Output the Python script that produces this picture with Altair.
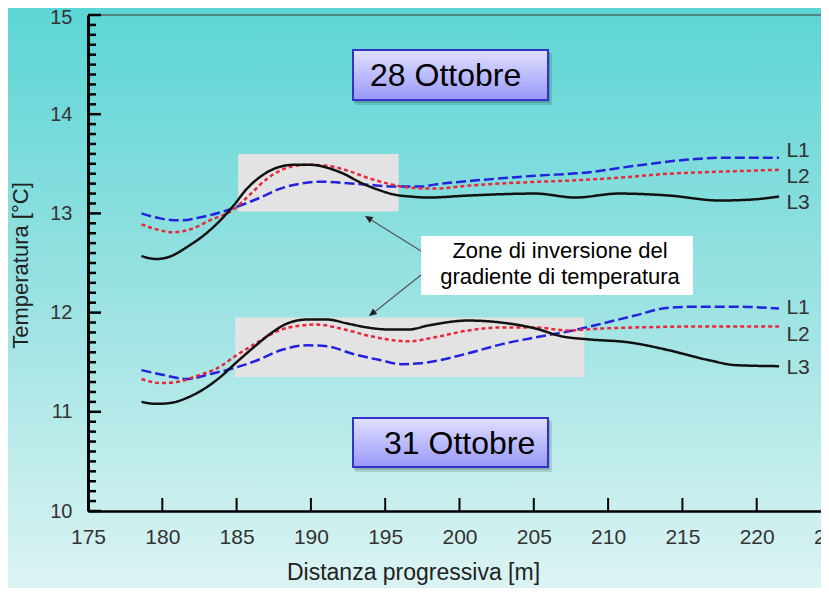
import altair as alt
import pandas as pd

# ---------------- data ----------------
# 28 Ottobre
x28_L1 = [178.6, 179.85, 181.2, 182.55, 183.9, 185.25, 186.6, 187.95, 189.3, 190.65, 192.0, 193.8,
          195.6, 197.4, 198.3, 201.7, 205.1, 208.4, 211.8, 215.2, 217.5, 221.5]
y28_L1 = [13.00, 12.95, 12.93, 12.96, 13.01, 13.08, 13.16, 13.25, 13.30, 13.32, 13.31, 13.29,
          13.27, 13.27, 13.29, 13.34, 13.38, 13.41, 13.48, 13.54, 13.56, 13.56]

x28_L2 = [178.6, 179.6, 180.7, 181.9, 183.2, 184.8, 185.9, 187.05, 188.4, 189.75, 191.1, 192.5,
          193.8, 195.2, 196.6, 198.3, 200.6, 203.9, 207.3, 210.7, 214.1, 217.5, 221.5]
y28_L2 = [12.89, 12.84, 12.81, 12.84, 12.93, 13.04, 13.19, 13.35, 13.46, 13.49, 13.48, 13.43,
          13.36, 13.30, 13.26, 13.25, 13.28, 13.31, 13.33, 13.36, 13.40, 13.42, 13.44]

x28_L3 = [178.6, 179.6, 180.6, 181.65, 182.8, 183.9, 184.8, 185.7, 186.6, 187.7, 188.85, 190.0,
          191.1, 192.2, 193.35, 194.5, 195.6, 196.7, 197.9, 200.6, 205.1, 207.8, 210.7, 214.1,
          217.5, 219.7, 221.5]
y28_L3 = [12.57, 12.54, 12.57, 12.66, 12.78, 12.93, 13.08, 13.25, 13.37, 13.46, 13.49, 13.49,
          13.46, 13.40, 13.31, 13.24, 13.19, 13.17, 13.16, 13.18, 13.20, 13.16, 13.20, 13.18,
          13.13, 13.14, 13.17]

# 31 Ottobre
x31_L1 = [178.6, 180.1, 181.65, 183.2, 184.8, 186.4, 187.95, 189.75, 191.1, 192.9, 194.7, 196.1,
          197.4, 198.3, 200.6, 202.8, 205.1, 207.3, 209.6, 211.8, 214.1, 216.3, 218.6, 221.5]
y31_L1 = [11.42, 11.37, 11.33, 11.38, 11.44, 11.52, 11.62, 11.67, 11.66, 11.58, 11.52, 11.48,
          11.49, 11.51, 11.59, 11.68, 11.75, 11.81, 11.89, 11.97, 12.05, 12.06, 12.06, 12.04]

x31_L2 = [178.6, 179.85, 180.95, 182.3, 183.7, 185.0, 186.4, 187.7, 189.3, 190.4, 192.0, 193.8,
          195.6, 196.6, 198.3, 200.6, 202.8, 205.1, 207.3, 209.6, 211.8, 216.3, 221.5]
y31_L2 = [11.33, 11.29, 11.30, 11.36, 11.44, 11.57, 11.70, 11.81, 11.87, 11.88, 11.84, 11.77,
          11.72, 11.71, 11.75, 11.82, 11.85, 11.85, 11.82, 11.84, 11.85, 11.86, 11.86]

x31_L3 = [178.6, 179.6, 180.6, 181.65, 182.8, 183.9, 185.0, 186.15, 187.3, 188.4, 189.75, 191.1,
          192.45, 193.8, 195.2, 196.6, 197.9, 200.6, 202.8, 205.1, 206.9, 208.7, 211.4, 214.1,
          216.8, 218.6, 221.5]
y31_L3 = [11.10, 11.08, 11.09, 11.14, 11.23, 11.35, 11.50, 11.65, 11.79, 11.89, 11.93, 11.93,
          11.89, 11.85, 11.83, 11.83, 11.87, 11.92, 11.90, 11.84, 11.76, 11.73, 11.70, 11.62,
          11.52, 11.47, 11.46]

# series end labels
lab_text = ["L1", "L2", "L3", "L1", "L2", "L3"]
lab_x = [222.0, 222.0, 222.0, 222.0, 222.0, 222.0]
lab_y = [13.63, 13.37, 13.10, 12.05, 11.77, 11.44]

# shaded "inversion" zones
zone_x = [185.1, 184.9]
zone_x2 = [195.9, 208.4]
zone_y = [13.02, 11.35]
zone_y2 = [13.60, 11.95]

# axis ticks / labels
x_ticks = [175, 180, 185, 190, 195, 200, 205, 210, 215, 220, 225]
y_ticks = [10, 11, 12, 13, 14, 15]
y_minor = [round(10 + i * 0.1, 1) for i in range(51) if i % 10 != 0]

# ---------------- build tables ----------------
series = [
    ("28", "L1", x28_L1, y28_L1), ("28", "L2", x28_L2, y28_L2), ("28", "L3", x28_L3, y28_L3),
    ("31", "L1", x31_L1, y31_L1), ("31", "L2", x31_L2, y31_L2), ("31", "L3", x31_L3, y31_L3),
]
rows = []
for d, name, xs, ys in series:
    for xv, yv in zip(xs, ys):
        rows.append({"serie": d + name, "line": name, "x": xv, "y": yv})
lines_df = pd.DataFrame(rows)
labels_df = pd.DataFrame({"x": lab_x, "y": lab_y, "t": lab_text})
zones_df = pd.DataFrame({"x": zone_x, "x2": zone_x2, "y": zone_y, "y2": zone_y2})
xt_df = pd.DataFrame({"x": [v for v in x_ticks if 175 < v < 225]})
yt_df = pd.DataFrame({"y": y_ticks})
ym_df = pd.DataFrame({"y": y_minor})
one = pd.DataFrame({"a": [0]})

W, H = 733, 496
FONT = "Liberation Sans"

xscale = alt.Scale(domain=[175, 225], range=[0, 743], nice=False, zero=False)
yscale = alt.Scale(domain=[10, 15], nice=False, zero=False)

def vbox(x0, y0, x1, y1, **kw):
    return alt.Chart(one).mark_rect(**kw).encode(
        x=alt.value(x0), x2=alt.value(x1), y=alt.value(y0), y2=alt.value(y1))

def vtext(txt, x, y, **kw):
    return alt.Chart(one).mark_text(text=txt, font=FONT, **kw).encode(
        x=alt.value(x), y=alt.value(y))

bg_grad = alt.LinearGradient(
    gradient="linear", x1=0, y1=0, x2=0, y2=1,
    stops=[alt.GradientStop(offset=0, color="#5cd5d5"),
           alt.GradientStop(offset=0.5, color="#9be2e2"),
           alt.GradientStop(offset=1, color="#dcf4f3")])
box_grad = alt.LinearGradient(
    gradient="linear", x1=0, y1=0, x2=0, y2=1,
    stops=[alt.GradientStop(offset=0, color="#e0e0ff"),
           alt.GradientStop(offset=1, color="#9898fa")])

background = vbox(-80, -8, W, H + 80, color=bg_grad)

zones = alt.Chart(zones_df).mark_rect(color="#e3e3e3").encode(
    x=alt.X("x:Q", scale=xscale), x2="x2:Q",
    y=alt.Y("y:Q", scale=yscale), y2="y2:Q")

top_line = alt.Chart(one).mark_rule(color="#4f8384", strokeWidth=2).encode(
    y=alt.datum(15), x=alt.value(0), x2=alt.value(W))

lines = alt.Chart(lines_df).mark_line(interpolate="monotone").encode(
    x=alt.X("x:Q", scale=xscale,
            axis=alt.Axis(values=x_ticks, format="d", ticks=False, grid=False, domainColor="black",
                          domainWidth=2.5, labelFont=FONT, labelFontSize=21, labelColor="#333333",
                          labelPadding=15, labelFlush=False, labelOverlap=False, zindex=1,
                          title="Distanza progressiva [m]", titleFont=FONT, titleFontSize=23,
                          titleFontWeight="normal", titleColor="#222222", titleX=325, titleY=61,
                          titleBaseline="middle", titleAlign="center")),
    y=alt.Y("y:Q", scale=yscale,
            axis=alt.Axis(values=y_ticks, format="d", ticks=False, grid=False, domainColor="black",
                          domainWidth=3, labelFont=FONT, labelFontSize=20, labelColor="#333333",
                          labelPadding=16, labelOverlap=False, labelFlush=False, zindex=1,
                          labelOffset={"condition": {"test": "datum.value == 15", "value": 2},
                                       "value": 0},
                          title="Temperatura [°C]", titleFont=FONT, titleFontSize=22,
                          titleFontWeight="normal", titleColor="#222222", titleX=-68, titleY=250,
                          titleAngle=270, titleBaseline="middle", titleAlign="center")),
    color=alt.Color("line:N", scale=alt.Scale(domain=["L1", "L2", "L3"],
                                              range=["#2323de", "#e8283a", "#111111"]), legend=None),
    strokeDash=alt.StrokeDash("line:N", scale=alt.Scale(domain=["L1", "L2", "L3"],
                                                        range=[[10, 4], [4, 3], [1, 0]]), legend=None),
    strokeWidth=alt.StrokeWidth("line:N", scale=alt.Scale(domain=["L1", "L2", "L3"],
                                                          range=[2.5, 2.5, 2.2]), legend=None),
    detail="serie:N",
)

labels = alt.Chart(labels_df).mark_text(align="left", baseline="middle", font=FONT,
                                        fontSize=21, color="#333333").encode(
    x="x:Q", y="y:Q", text="t:N")

yt_major = alt.Chart(yt_df).mark_rule(color="black", strokeWidth=2.5).encode(
    y="y:Q", x=alt.value(0), x2=alt.value(13))
yt_minor = alt.Chart(ym_df).mark_rule(color="black", strokeWidth=2.5).encode(
    y="y:Q", x=alt.value(0), x2=alt.value(8))
xt_major = alt.Chart(xt_df).mark_rule(color="black", strokeWidth=2).encode(
    x="x:Q", y=alt.value(H), y2=alt.value(H - 13))

# date boxes (with shadows)
def date_box(x0, y0, x1, y1, txt, tx):
    return [
        vbox(x0 + 2, y0 + 3, x1 + 4, y1 + 5, color="#000000", opacity=0.12),
        vbox(x0 + 1, y0 + 2, x1 + 2, y1 + 3, color="#000000", opacity=0.15),
        vbox(x0, y0, x1, y1, color=box_grad, stroke="#3333cc", strokeWidth=2),
        vtext(txt, tx, (y0 + y1) / 2 + 1, align="left", baseline="middle", fontSize=32,
              color="#000000"),
    ]

box28 = date_box(265, 35, 460, 85, "28 Ottobre", 282)
box31 = date_box(265, 403, 460, 452, "31 Ottobre", 296)

# annotation
ann_box = vbox(333, 221, 605, 280, color="#ffffff")
ann_t1 = vtext("Zone di inversione del", 472, 243, align="center", baseline="alphabetic",
               fontSize=22, color="#000000")
ann_t2 = vtext("gradiente di temperatura", 472, 269, align="center", baseline="alphabetic",
               fontSize=22, color="#000000")
arrow_path = "M0,0L-1,2.2L1,2.2Z"
arr1 = alt.Chart(one).mark_rule(color="#555555", strokeWidth=1.2).encode(
    x=alt.value(333), y=alt.value(236), x2=alt.value(280), y2=alt.value(203))
arr1h = alt.Chart(one).mark_point(shape=arrow_path, filled=True, size=49, angle=302,
                                  color="#222222", opacity=1).encode(
    x=alt.value(277), y=alt.value(201))
arr2 = alt.Chart(one).mark_rule(color="#555555", strokeWidth=1.2).encode(
    x=alt.value(333), y=alt.value(260), x2=alt.value(284), y2=alt.value(299))
arr2h = alt.Chart(one).mark_point(shape=arrow_path, filled=True, size=49, angle=232,
                                  color="#222222", opacity=1).encode(
    x=alt.value(281), y=alt.value(301))

chart = alt.layer(
    background, zones, top_line, lines, labels, yt_major, yt_minor, xt_major,
    *box28, *box31, ann_box, ann_t1, ann_t2, arr1, arr2, arr1h, arr2h,
).properties(
    width=W, height=H,
    autosize=alt.AutoSizeParams(type="none"),
    padding={"left": 80, "top": 7, "right": 0, "bottom": 77},
).configure_view(stroke=None)

chart.save("out.html", embed_options={"renderer": "svg", "actions": False})
